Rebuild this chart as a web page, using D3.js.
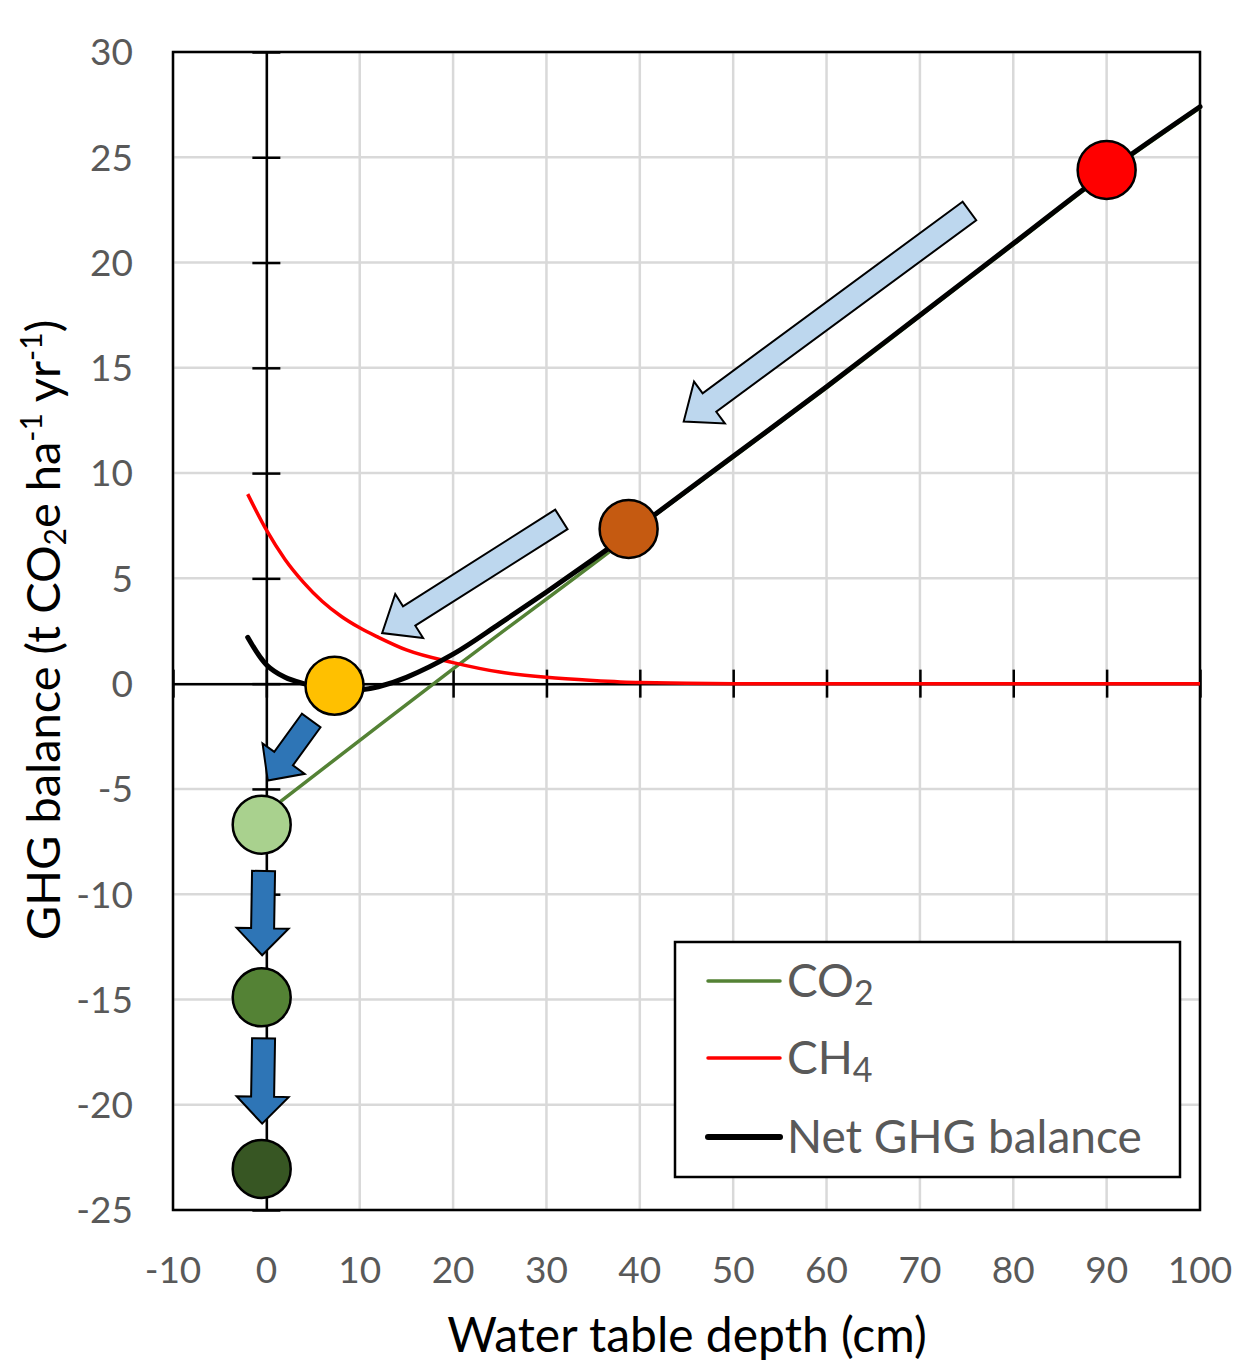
<!DOCTYPE html>
<html>
<head>
<meta charset="utf-8">
<script src="https://cdn.jsdelivr.net/npm/d3@7"></script>
<style>
  body { margin: 0; background: #fff; }
  text { font-family: Lato, "Open Sans", sans-serif; }
</style>
</head>
<body>
<svg id="chart" width="1237" height="1362"></svg>
<script>
// axis ticks
const xTicks = [-10, 0, 10, 20, 30, 40, 50, 60, 70, 80, 90, 100];
const yTicks = [30, 25, 20, 15, 10, 5, 0, -5, -10, -15, -20, -25];

// series
const co2Depth = [1.5, 20, 38, 40, 50, 60, 70, 80, 90, 100];
const co2Value = [-5.6, 0.7, 6.7, 7.45, 10.75, 14.05, 17.45, 20.85, 24.25, 27.35];

const ch4Depth = [-2, 0, 2, 4, 6, 8, 10, 12, 15, 20, 25, 30, 35, 40, 50, 60, 100];
const ch4Value = [9.0, 7.3, 5.9, 4.8, 3.9, 3.2, 2.65, 2.2, 1.6, 1.0, 0.55, 0.3, 0.15, 0.05, 0, 0, 0];

const netDepth = [-2, 0, 2, 4, 6, 8, 10, 12, 15, 20, 25, 30, 35, 40, 50, 60, 70, 80, 90, 100];
const netValue = [2.2, 0.9, 0.3, 0.0, -0.2, -0.3, -0.3, -0.15, 0.3, 1.4, 2.85, 4.35, 5.9, 7.5, 10.8, 14.1, 17.5, 20.9, 24.3, 27.4];

// highlighted states
const stateDepth = [90, 38.8, 7.3, -0.5, -0.5, -0.5];
const stateValue = [24.4, 7.35, -0.1, -6.7, -14.9, -23.05];
const stateColor = ["#FF0000", "#C55A11", "#FFC000", "#A9D18E", "#548235", "#375623"];

// arrows: tail and tip in data units
const arrowFrom = [[75.3, 22.45], [31.6, 7.8], [4.8, -1.75], [-0.3, -8.9], [-0.3, -16.85]];
const arrowTo = [[44.7, 12.45], [12.4, 2.4], [0.15, -4.6], [-0.45, -12.9], [-0.45, -20.9]];
const arrowFill = ["#BDD7EE", "#BDD7EE", "#2E75B6", "#2E75B6", "#2E75B6"];

const legendNames = ["CO", "CH", "Net GHG balance"];
const legendSubs = ["2", "4", ""];
const legendColors = ["#548235", "#FF0000", "#000000"];

const svg = d3.select("#chart");
const x = d3.scaleLinear().domain([-10, 100]).range([173, 1200]);
const y = d3.scaleLinear().domain([-25, 30]).range([1210, 52]);

// grid
svg.append("g")
  .selectAll("line")
  .data(xTicks)
  .join("line")
  .attr("x1", d => x(d)).attr("x2", d => x(d))
  .attr("y1", y(30)).attr("y2", y(-25))
  .attr("stroke", "#D9D9D9").attr("stroke-width", 2.5);
svg.append("g")
  .selectAll("line")
  .data(yTicks)
  .join("line")
  .attr("x1", x(-10)).attr("x2", x(100))
  .attr("y1", d => y(d)).attr("y2", d => y(d))
  .attr("stroke", "#D9D9D9").attr("stroke-width", 2.5);

// frame
svg.append("rect")
  .attr("x", x(-10)).attr("y", y(30))
  .attr("width", x(100) - x(-10)).attr("height", y(-25) - y(30))
  .attr("fill", "none").attr("stroke", "#000").attr("stroke-width", 2.5);

// axes crossing at zero, with cross ticks
const yAxis = d3.axisLeft(y).tickValues(yTicks).tickSize(0).tickFormat("");
svg.append("g").attr("transform", `translate(${x(0)},0)`).call(yAxis)
  .call(g => g.select(".domain").attr("stroke-width", 2.5))
  .call(g => g.selectAll(".tick line").attr("x1", -14).attr("x2", 14).attr("stroke-width", 2.5));
const xAxis = d3.axisBottom(x).tickValues(xTicks).tickSize(0).tickFormat("");
svg.append("g").attr("transform", `translate(0,${y(0)})`).call(xAxis)
  .call(g => g.select(".domain").attr("stroke-width", 2.5))
  .call(g => g.selectAll(".tick line").attr("y1", -14).attr("y2", 14).attr("stroke-width", 2.5));

// tick labels at the frame
svg.append("g")
  .selectAll("text")
  .data(yTicks)
  .join("text")
  .attr("x", 133).attr("y", d => y(d))
  .attr("dy", "0.36em")
  .attr("text-anchor", "end")
  .attr("font-size", 37).attr("fill", "#595959")
  .text(d => d);
svg.append("g")
  .selectAll("text")
  .data(xTicks)
  .join("text")
  .attr("x", d => x(d)).attr("y", 1283)
  .attr("text-anchor", "middle")
  .attr("font-size", 37).attr("fill", "#595959")
  .text(d => d);

// axis titles
svg.append("text")
  .attr("x", 687).attr("y", 1352)
  .attr("text-anchor", "middle")
  .attr("font-size", 48).attr("fill", "#000")
  .text("Water table depth (cm)");

const yTitle = svg.append("text")
  .attr("transform", "translate(60,630) rotate(-90)")
  .attr("text-anchor", "middle")
  .attr("font-size", 47).attr("fill", "#000");
yTitle.append("tspan").text("GHG balance (t CO");
yTitle.append("tspan").attr("font-size", 30).attr("baseline-shift", "-20%").text("2");
yTitle.append("tspan").text("e ha");
yTitle.append("tspan").attr("font-size", 30).attr("baseline-shift", "60%").text("-1");
yTitle.append("tspan").text(" yr");
yTitle.append("tspan").attr("font-size", 30).attr("baseline-shift", "60%").text("-1");
yTitle.append("tspan").text(")");

// series lines
const line = d3.line()
  .x(d => x(d[0]))
  .y(d => y(d[1]))
  .curve(d3.curveCatmullRom);

svg.append("path")
  .datum(d3.zip(co2Depth, co2Value))
  .attr("d", line)
  .attr("fill", "none").attr("stroke", "#548235").attr("stroke-width", 3.5);
svg.append("path")
  .datum(d3.zip(ch4Depth, ch4Value))
  .attr("d", line.curve(d3.curveMonotoneX))
  .attr("fill", "none").attr("stroke", "#FF0000").attr("stroke-width", 3.5);
svg.append("path")
  .datum(d3.zip(netDepth, netValue))
  .attr("d", line.curve(d3.curveCatmullRom))
  .attr("fill", "none").attr("stroke", "#000").attr("stroke-width", 5)
  .attr("stroke-linecap", "round");

// state markers
svg.append("g")
  .selectAll("circle")
  .data(d3.zip(stateDepth, stateValue, stateColor))
  .join("circle")
  .attr("cx", d => x(d[0])).attr("cy", d => y(d[1]))
  .attr("r", 29)
  .attr("fill", d => d[2])
  .attr("stroke", "#000").attr("stroke-width", 2.5);

// block arrows
function arrowPath(from, to, shaft, head, headLen) {
  const x0 = x(from[0]), y0 = y(from[1]);
  const x1 = x(to[0]), y1 = y(to[1]);
  const len = Math.hypot(x1 - x0, y1 - y0);
  const ux = (x1 - x0) / len, uy = (y1 - y0) / len;
  const px = -uy, py = ux;
  const bx = x1 - ux * headLen, by = y1 - uy * headLen;
  const pts = [
    [x0 + px * shaft / 2, y0 + py * shaft / 2],
    [bx + px * shaft / 2, by + py * shaft / 2],
    [bx + px * head / 2, by + py * head / 2],
    [x1, y1],
    [bx - px * head / 2, by - py * head / 2],
    [bx - px * shaft / 2, by - py * shaft / 2],
    [x0 - px * shaft / 2, y0 - py * shaft / 2]
  ];
  return "M" + pts.map(p => p.join(",")).join("L") + "Z";
}

svg.append("g")
  .selectAll("path")
  .data(d3.range(arrowFrom.length))
  .join("path")
  .attr("d", i => i < 2
    ? arrowPath(arrowFrom[i], arrowTo[i], 23, 52, 32)
    : arrowPath(arrowFrom[i], arrowTo[i], 23, 52, 27))
  .attr("fill", i => arrowFill[i])
  .attr("stroke", "#000").attr("stroke-width", 2)
  .attr("stroke-linejoin", "miter");

// legend
const legend = svg.append("g");
legend.append("rect")
  .attr("x", 675).attr("y", 942).attr("width", 505).attr("height", 235)
  .attr("fill", "#fff").attr("stroke", "#000").attr("stroke-width", 2.5);
const rowY = [981, 1058, 1137];
legend.selectAll("line")
  .data(d3.range(3))
  .join("line")
  .attr("x1", 708).attr("x2", 780)
  .attr("y1", i => rowY[i]).attr("y2", i => rowY[i])
  .attr("stroke", i => legendColors[i])
  .attr("stroke-width", i => i === 2 ? 6 : 3.5)
  .attr("stroke-linecap", "round");
const lt = legend.selectAll("text")
  .data(d3.range(3))
  .join("text")
  .attr("x", 787).attr("y", i => rowY[i] + 16)
  .attr("font-size", 46).attr("fill", "#595959");
lt.append("tspan").text(i => legendNames[i]);
lt.append("tspan").attr("font-size", 34).attr("dy", 8).text(i => legendSubs[i]);
</script>
</body>
</html>
